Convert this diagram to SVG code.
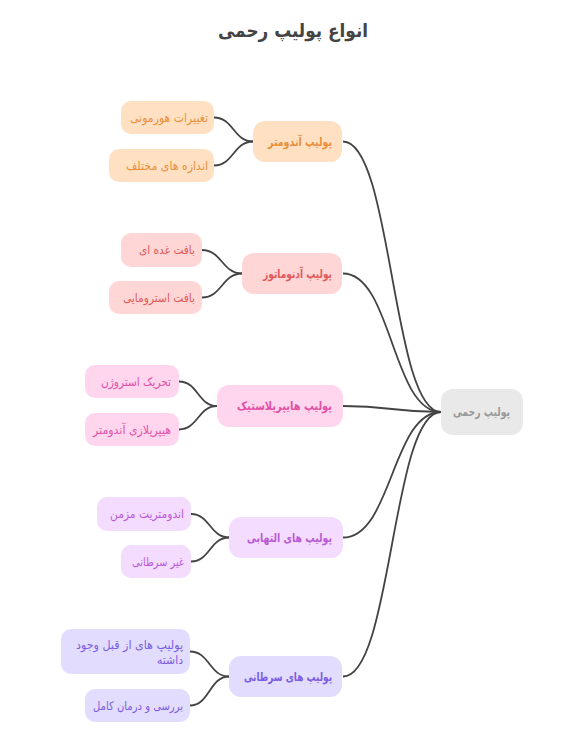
<svg xmlns="http://www.w3.org/2000/svg" width="572" height="755" viewBox="0 0 572 755">
<style>
text{font-family:"DejaVu Sans","Noto Sans",sans-serif;font-size:12px;text-anchor:middle}
.t{font-size:19px;font-weight:bold;fill:#444}
.b{font-weight:bold}
.c path{fill:none;stroke:#444;stroke-width:1.8}
.r{fill:#e9e9e9}.rt{fill:#999}
.o{fill:#ffe0c2}.ot{fill:#e8903a}
.p{fill:#ffd6d6}.pt{fill:#e05a5a}
.k{fill:#ffd6ee}.kt{fill:#e052a6}
.v{fill:#f4dcff}.vt{fill:#b85ad6}
.u{fill:#e2dcff}.ut{fill:#7c5ce0}
</style>
<rect width="572" height="755" fill="#fff"/>
<text class="t" x="293" y="37" textLength="150" lengthAdjust="spacingAndGlyphs">انواع پولیپ رحمی</text>
<g class="c" id="connectors">
<path d="M343 141.5C392 141.5 392 412 441 412"/>
<path d="M343 273.5C392 273.5 392 412 441 412"/>
<path d="M343 406C392 406 392 412 441 412"/>
<path d="M343 537.5C392 537.5 392 412 441 412"/>
<path d="M343 676.5C392 676.5 392 412 441 412"/>
<path d="M214 117.5C233.5 117.5 233.5 141.5 253 141.5"/>
<path d="M214 165.5C233.5 165.5 233.5 141.5 253 141.5"/>
<path d="M202 250C222 250 222 273.5 242 273.5"/>
<path d="M202 297.5C222 297.5 222 273.5 242 273.5"/>
<path d="M179 381.5C198 381.5 198 406 217 406"/>
<path d="M179 429.5C198 429.5 198 406 217 406"/>
<path d="M191 514C210 514 210 537.5 229 537.5"/>
<path d="M191 561.5C210 561.5 210 537.5 229 537.5"/>
<path d="M190 651.5C209.5 651.5 209.5 676.5 229 676.5"/>
<path d="M190 705.5C209.5 705.5 209.5 676.5 229 676.5"/>
</g>
<g id="root"><rect class="r" x="441" y="389" width="82" height="46" rx="12"/><text class="rt b" x="481.5" y="416" textLength="57" lengthAdjust="spacingAndGlyphs">پولیپ رحمی</text></g>
<g id="n1"><rect class="o" x="253" y="121" width="89" height="41" rx="12"/><text class="ot b" x="300" y="146" textLength="64" lengthAdjust="spacingAndGlyphs">پولیپ آندومتر</text></g>
<g id="n1a"><rect class="o" x="121" y="101" width="93" height="33" rx="10"/><text class="ot" x="169" y="122" textLength="78" lengthAdjust="spacingAndGlyphs">تغییرات هورمونی</text></g>
<g id="n1b"><rect class="o" x="109" y="149" width="105" height="33" rx="10"/><text class="ot" x="167" y="170" textLength="82" lengthAdjust="spacingAndGlyphs">اندازه های مختلف</text></g>
<g id="n2"><rect class="p" x="242" y="253" width="100" height="41" rx="12"/><text class="pt b" x="297.5" y="278" textLength="69" lengthAdjust="spacingAndGlyphs">پولیپ آدنوماتوز</text></g>
<g id="n2a"><rect class="p" x="121" y="233" width="81" height="34" rx="10"/><text class="pt" x="167" y="254" textLength="56" lengthAdjust="spacingAndGlyphs">بافت غده ای</text></g>
<g id="n2b"><rect class="p" x="109" y="281" width="93" height="33" rx="10"/><text class="pt" x="159" y="302" textLength="72" lengthAdjust="spacingAndGlyphs">بافت استرومایی</text></g>
<g id="n3"><rect class="k" x="217" y="385" width="126" height="42" rx="12"/><text class="kt b" x="284.5" y="410" textLength="95" lengthAdjust="spacingAndGlyphs">پولیپ هایپرپلاستیک</text></g>
<g id="n3a"><rect class="k" x="85" y="365" width="94" height="33" rx="10"/><text class="kt" x="136" y="386" textLength="70" lengthAdjust="spacingAndGlyphs">تحریک استروژن</text></g>
<g id="n3b"><rect class="k" x="85" y="413" width="94" height="33" rx="10"/><text class="kt" x="132" y="434" textLength="78" lengthAdjust="spacingAndGlyphs">هیپرپلازی آندومتر</text></g>
<g id="n4"><rect class="v" x="229" y="517" width="114" height="41" rx="12"/><text class="vt b" x="289.5" y="542" textLength="85" lengthAdjust="spacingAndGlyphs">پولیپ های التهابی</text></g>
<g id="n4a"><rect class="v" x="97" y="497" width="94" height="34" rx="10"/><text class="vt" x="147" y="518" textLength="74" lengthAdjust="spacingAndGlyphs">اندومتریت مزمن</text></g>
<g id="n4b"><rect class="v" x="121" y="545" width="70" height="33" rx="10"/><text class="vt" x="158" y="566" textLength="52" lengthAdjust="spacingAndGlyphs">غیر سرطانی</text></g>
<g id="n5"><rect class="u" x="229" y="656" width="113" height="41" rx="12"/><text class="ut b" x="288" y="681" textLength="88" lengthAdjust="spacingAndGlyphs">پولیپ های سرطانی</text></g>
<g id="n5a"><rect class="u" x="61" y="629" width="129" height="45" rx="10"/><text class="ut" x="129.5" y="649" textLength="107" lengthAdjust="spacingAndGlyphs">پولیپ های از قبل وجود</text><text class="ut" x="170" y="664" textLength="26" lengthAdjust="spacingAndGlyphs">داشته</text></g>
<g id="n5b"><rect class="u" x="85" y="689" width="105" height="33" rx="10"/><text class="ut" x="138" y="710" textLength="90" lengthAdjust="spacingAndGlyphs">بررسی و درمان کامل</text></g>
</svg>
